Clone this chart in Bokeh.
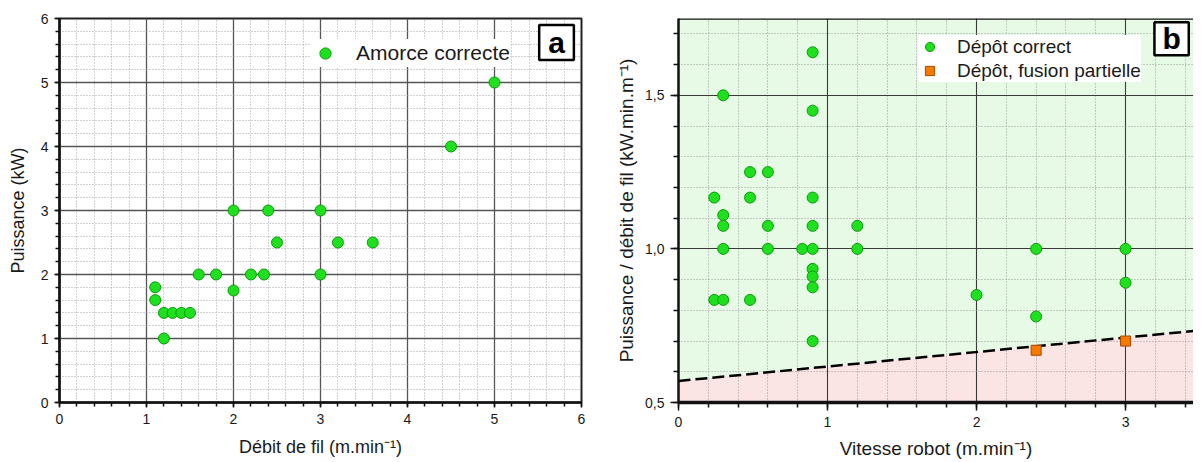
from bokeh.plotting import figure
from bokeh.models import SingleIntervalTicker, Legend, LegendItem, Label, Span
from bokeh.layouts import row
from bokeh.embed import file_html
from bokeh.resources import INLINE

# ---------------- data ----------------
# panel a
debit = [1.1, 1.1, 1.2, 1.3, 1.4, 1.5, 1.2, 1.6, 1.8, 2.0, 2.2, 2.35, 2.5,
         2.0, 2.4, 3.0, 3.0, 3.2, 3.6, 4.5, 5.0]
puissance = [1.8, 1.6, 1.4, 1.4, 1.4, 1.4, 1.0, 2.0, 2.0, 1.75, 2.0, 2.0, 2.5,
             3.0, 3.0, 3.0, 2.0, 2.5, 2.5, 4.0, 5.0]

# panel b
vit_ok = [0.3, 0.9, 0.9, 0.48, 0.6, 0.24, 0.48, 0.9, 0.3, 0.3, 0.6, 0.9, 1.2,
          0.3, 0.6, 0.83, 0.9, 1.2, 0.9, 0.9, 0.9, 0.24, 0.3, 0.48, 0.9,
          2.0, 2.4, 2.4, 3.0, 3.0]
ratio_ok = [1.5, 1.64, 1.45, 1.25, 1.25, 1.167, 1.167, 1.167, 1.11, 1.075, 1.075,
            1.075, 1.075, 1.0, 1.0, 1.0, 1.0, 1.0, 0.935, 0.91, 0.875, 0.834,
            0.834, 0.834, 0.7, 0.85, 1.0, 0.78, 1.0, 0.89]
vit_part = [2.4, 3.0]
ratio_part = [0.67, 0.70]
limite_x = [0.0, 3.5]
limite_y = [0.57, 0.735]

FONT = "Liberation Sans"
GREEN = "#1fe01f"
GREEN_LINE = "#0c9a0c"
ORANGE = "#f47a00"
ORANGE_LINE = "#a84800"
TXT = "#1a1a1a"


def style_axes(p, label_size, tick_size):
    for ax in (p.xaxis[0], p.yaxis[0]):
        ax.axis_label_text_font = FONT
        ax.axis_label_text_font_style = "normal"
        ax.axis_label_text_font_size = label_size
        ax.axis_label_text_color = TXT
        ax.major_label_text_font = FONT
        ax.major_label_text_font_size = tick_size
        ax.major_label_text_color = TXT
        ax.major_tick_in = 0
        ax.minor_tick_in = 0
        ax.axis_line_color = "#111111"
        ax.major_tick_line_color = "#111111"
        ax.minor_tick_line_color = "#111111"
        ax.major_tick_line_width = 1.5
        ax.minor_tick_line_width = 1.5


# ---------------- panel a ----------------
p1 = figure(frame_width=522, frame_height=384, x_range=(0, 6), y_range=(0, 6),
            output_backend="svg", toolbar_location=None,
            min_border_left=59, min_border_right=25, min_border_top=18,
            min_border_bottom=40)
p1.background_fill_color = "white"
p1.outline_line_color = "#222222"
p1.outline_line_width = 2

p1.xaxis.ticker = SingleIntervalTicker(interval=1, num_minor_ticks=5)
p1.yaxis.ticker = SingleIntervalTicker(interval=1, num_minor_ticks=5)
p1.xaxis.axis_label = "Débit de fil (m.min⁻¹)"
p1.yaxis.axis_label = "Puissance (kW)"
style_axes(p1, "18px", "14px")
for ax in (p1.xaxis[0], p1.yaxis[0]):
    ax.axis_line_width = 2.5
    ax.major_tick_out = 5
    ax.minor_tick_out = 4
    ax.major_label_standoff = 6
    ax.axis_label_standoff = 10

for g in (p1.xgrid[0], p1.ygrid[0]):
    g.grid_line_color = "#555555"
    g.grid_line_width = 1.3
    g.minor_grid_line_color = "#a5a5a5"
    g.minor_grid_line_dash = "1 2"
    g.minor_grid_line_width = 1

r1 = p1.scatter(debit, puissance, marker="circle", size=11, fill_color=GREEN,
                line_color=GREEN_LINE, line_width=1)

leg1 = Legend(items=[LegendItem(label="Amorce correcte", renderers=[r1])],
              location=(252, 335), padding=2, glyph_width=28, glyph_height=28,
              label_height=28, label_standoff=17,
              border_line_color=None, background_fill_color="white",
              background_fill_alpha=1.0, label_text_font=FONT,
              label_text_font_size="21px", label_text_color=TXT, margin=0)
p1.add_layout(leg1)

lab_a = Label(x=5.713, y=5.625, text="a", text_font=FONT, text_font_style="bold",
              text_font_size="30px", text_align="center", text_baseline="middle",
              text_color="#000000", background_fill_color="white",
              border_line_color="#000000", border_line_width=2.5, padding=(9, 1))
p1.add_layout(lab_a)

# ---------------- panel b ----------------
p2 = figure(frame_width=515, frame_height=384, x_range=(0, 3.456), y_range=(0.5, 1.75),
            output_backend="svg", toolbar_location=None,
            min_border_left=72, min_border_right=0, min_border_top=18,
            min_border_bottom=40)
p2.outline_line_color = None
p2.background_fill_color = "white"

p2.varea(x=limite_x, y1=limite_y, y2=[1.75, 1.75], fill_color="#e6fae6", level="image")
p2.varea(x=limite_x, y1=[0.5, 0.5], y2=limite_y, fill_color="#fbe4e4", level="image")

p2.xaxis.ticker = SingleIntervalTicker(interval=1, num_minor_ticks=5)
p2.yaxis.ticker = SingleIntervalTicker(interval=0.5, num_minor_ticks=5)
p2.yaxis.major_label_overrides = {0.5: "0,5", 1: "1,0", 1.5: "1,5"}
p2.xaxis.axis_label = "Vitesse robot (m.min⁻¹)"
p2.yaxis.axis_label = "Puissance / débit de fil (kW.min.m⁻¹)"
style_axes(p2, "19px", "14px")
p2.xaxis.axis_line_width = 3.5
p2.yaxis.axis_line_width = 2.5
for ax in (p2.xaxis[0], p2.yaxis[0]):
    ax.major_tick_out = 8
    ax.minor_tick_out = 5
    ax.major_label_standoff = 6
    ax.axis_label_standoff = 8
p2.yaxis.axis_label_standoff = 5

for g in (p2.xgrid[0], p2.ygrid[0]):
    g.grid_line_color = "#3a3a3a"
    g.grid_line_width = 1.1
    g.minor_grid_line_color = "#9a9a9a"
    g.minor_grid_line_dash = "1 2"
    g.minor_grid_line_width = 1

p2.line(limite_x, limite_y, line_color="#000000", line_width=2.5, line_dash="12 5")

r2 = p2.scatter(vit_ok, ratio_ok, marker="circle", size=11, fill_color=GREEN,
                line_color=GREEN_LINE, line_width=1)
r3 = p2.scatter(vit_part, ratio_part, marker="square", size=10, fill_color=ORANGE,
                line_color=ORANGE_LINE, line_width=1)

top_line = Span(location=1.75, dimension="width", line_color="#111111", line_width=2.5)
p2.add_layout(top_line)

leg2 = Legend(items=[LegendItem(label="Dépôt correct", renderers=[r2]),
                     LegendItem(label="Dépôt, fusion partielle", renderers=[r3])],
              location=(240, 320), padding=3, glyph_width=23, glyph_height=23,
              label_height=23, label_standoff=16,
              spacing=1, border_line_color=None, background_fill_color="white",
              background_fill_alpha=1.0, label_text_font=FONT,
              label_text_font_size="19px", label_text_color=TXT, margin=0)
p2.add_layout(leg2)

lab_b = Label(x=3.309, y=1.684, text="b", text_font=FONT, text_font_style="bold",
              text_font_size="30px", text_align="center", text_baseline="middle",
              text_color="#000000", background_fill_color="white",
              border_line_color="#000000", border_line_width=2.5, padding=(8, 0))
p2.add_layout(lab_b)

layout = row(p1, p2)
open("out.html", "w").write(file_html(layout, INLINE))
